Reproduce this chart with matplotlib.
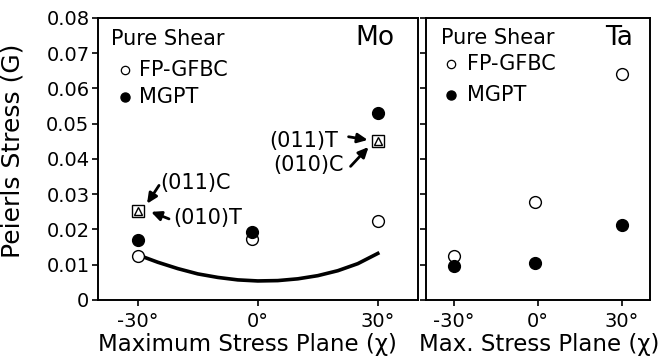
import matplotlib
matplotlib.use("Agg")
import matplotlib.pyplot as plt

plt.rcParams['font.family'] = ['DejaVu Sans']

# Data
chi_ticks = [-30, 0, 30]
chi_labels = ["-30°", "0°", "30°"]

mo_chi = [-30, -1.5, 30]
mo_fp = [0.0126, 0.0174, 0.0225]
mo_mgpt = [0.0170, 0.0192, 0.0531]
mo_sq_chi = [-30, 30]
mo_sq = [0.0251, 0.0451]
mo_curve_chi = [-30, -25, -20, -15, -10, -5, 0, 5, 10, 15, 20, 25, 30]
mo_curve = [0.0128, 0.0107, 0.0089, 0.0074, 0.0064, 0.0057, 0.0054, 0.0055, 0.0060,
            0.0069, 0.0083, 0.0103, 0.0132]

ta_chi = [-30, -1, 30]
ta_fp = [0.0126, 0.0277, 0.0640]
ta_mgpt = [0.0097, 0.0105, 0.0212]

fig = plt.figure(figsize=(6.61, 3.63), dpi=100)
axL = fig.add_axes([0.148, 0.1736, 0.484, 0.777])
axR = fig.add_axes([0.6445, 0.1736, 0.339, 0.777])

TICK_FS = 14
for ax in (axL, axR):
    ax.set_xlim(-40, 40)
    ax.set_ylim(0, 0.08)
    ax.set_xticks(chi_ticks)
    ax.set_xticklabels(chi_labels, fontsize=TICK_FS)
    ax.set_yticks([0, 0.01, 0.02, 0.03, 0.04, 0.05, 0.06, 0.07, 0.08])
    ax.tick_params(direction='out', length=4, width=1.2, top=False, right=False)
    ax.tick_params(axis='x', pad=5)
    ax.tick_params(axis='y', pad=2)
    for s in ax.spines.values():
        s.set_linewidth(1.4)

axL.set_yticklabels(["0", "0.01", "0.02", "0.03", "0.04", "0.05", "0.06", "0.07", "0.08"], fontsize=TICK_FS)
axR.set_yticklabels([])

axL.set_ylabel("Peierls Stress (G)", fontsize=18)
axL.yaxis.set_label_coords(-0.228, 0.53)
axL.set_xlabel("Maximum Stress Plane (χ)", fontsize=16.5)
axL.xaxis.set_label_coords(0.469, -0.118)
axR.set_xlabel("Max. Stress Plane (χ)", fontsize=16.5)
axR.xaxis.set_label_coords(0.505, -0.118)

ms = 8.5
# Mo panel
axL.plot(mo_curve_chi, mo_curve, '-', color='black', lw=2.6, zorder=1)
axL.plot(mo_chi, mo_mgpt, 'o', ms=ms, mfc='black', mec='black', zorder=3)
axL.plot(mo_chi, mo_fp, 'o', ms=ms, mfc='white', mec='black', mew=1.0, zorder=2)
axL.plot(mo_sq_chi, mo_sq, 's', ms=8.5, mfc='white', mec='black', mew=1.0, zorder=3)
axL.plot(mo_sq_chi, mo_sq, '^', ms=5.5, mfc='white', mec='black', mew=1.0, zorder=4)

# Legend-like text, Mo
LEG_FS = 15
axL.text(-36.6, 0.0740, "Pure Shear", fontsize=LEG_FS, va='center', ha='left')
axL.plot([-33.2], [0.0652], 'o', ms=6, mfc='white', mec='black', mew=0.9)
axL.plot([-33.2], [0.0575], 'o', ms=6.5, mfc='black', mec='black')
axL.text(-29.8, 0.0652, "FP-GFBC", fontsize=LEG_FS, va='center', ha='left')
axL.text(-29.8, 0.0575, "MGPT", fontsize=LEG_FS, va='center', ha='left')
axL.text(34.3, 0.0742, "Mo", fontsize=19, va='center', ha='right')

# Annotations, Mo
ANN_FS = 15
arr = dict(arrowstyle='-|>,head_length=0.6,head_width=0.28', color='black', lw=2.0,
           shrinkA=0, shrinkB=0)
axL.text(-24.5, 0.0333, "(011)C", fontsize=ANN_FS, va='center', ha='left')
axL.annotate('', xy=(-27.7, 0.0273), xytext=(-24.7, 0.0325), arrowprops=arr)
axL.text(-21.2, 0.0233, "(010)T", fontsize=ANN_FS, va='center', ha='left')
axL.annotate('', xy=(-26.7, 0.0250), xytext=(-22.2, 0.0230), arrowprops=arr)
axL.text(20.2, 0.0451, "(011)T", fontsize=ANN_FS, va='center', ha='right')
axL.annotate('', xy=(27.5, 0.0454), xytext=(22.7, 0.0463), arrowprops=arr)
axL.text(21.4, 0.0382, "(010)C", fontsize=ANN_FS, va='center', ha='right')
axL.annotate('', xy=(27.7, 0.0434), xytext=(23.2, 0.0379), arrowprops=arr)

# Ta panel
axR.plot(ta_chi, ta_mgpt, 'o', ms=ms, mfc='black', mec='black', zorder=3)
axR.plot(ta_chi, ta_fp, 'o', ms=ms, mfc='white', mec='black', mew=1.0, zorder=2)
axR.text(-34.5, 0.0743, "Pure Shear", fontsize=LEG_FS, va='center', ha='left')
axR.plot([-31], [0.0668], 'o', ms=6, mfc='white', mec='black', mew=0.9)
axR.plot([-31], [0.0582], 'o', ms=6.5, mfc='black', mec='black')
axR.text(-25.5, 0.0668, "FP-GFBC", fontsize=LEG_FS, va='center', ha='left')
axR.text(-25.5, 0.0582, "MGPT", fontsize=LEG_FS, va='center', ha='left')
axR.text(34.0, 0.0742, "Ta", fontsize=19, va='center', ha='right')

fig.savefig("out.png", dpi=100)
